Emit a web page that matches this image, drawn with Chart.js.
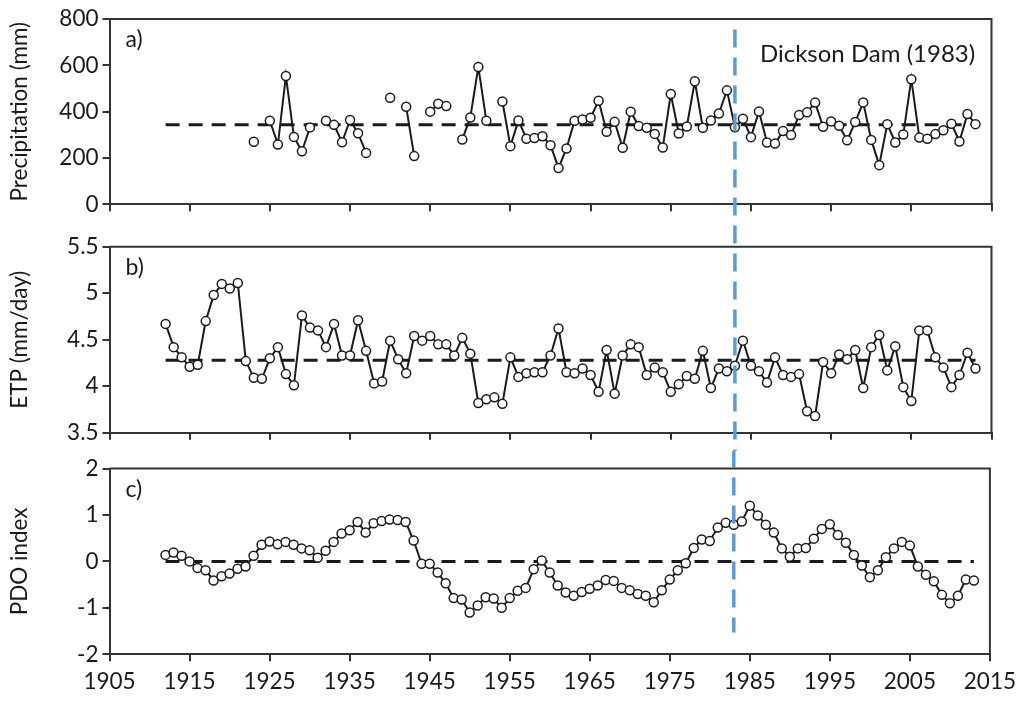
<!DOCTYPE html>
<html><head><meta charset="utf-8">
<script src="https://cdn.jsdelivr.net/npm/chart.js@4.4.0/dist/chart.umd.min.js"></script>
<style>
html,body{margin:0;padding:0;background:#fff;}
#wrap{position:relative;width:1023px;height:702px;overflow:hidden;background:#fff;}
canvas{position:absolute;left:0;}
</style></head><body>
<div id="wrap">
<canvas id="cA" width="1023" height="226" style="top:0px"></canvas>
<canvas id="cB" width="1023" height="225" style="top:226px"></canvas>
<canvas id="cC" width="1023" height="251" style="top:451px"></canvas>
</div>
<script>
// ---------------- data ----------------
const firstYear = 1912;           // first year of the record
const lastYear = 2013;            // last year of the record
const damYear = 1983;
const damLabel = 'Dickson Dam (1983)';

// Precipitation (mm), 1912-2013 (null = missing year)
const precipitation = [
  null,null,null,null,null,null,null,null,null,null,null,
  270,null,361,258,554,291,229,332,null,361,
  343,268,364,307,222,null,null,460,null,421,
  208,null,400,434,424,null,280,375,593,361,
  null,444,251,362,283,286,294,255,157,241,
  361,366,374,447,313,356,244,400,338,330,
  304,245,476,306,336,531,330,362,392,492,
  333,369,290,401,267,262,316,299,385,397,
  439,335,358,339,276,355,440,278,169,346,
  267,301,540,288,283,303,320,348,271,390,
  346
];
// ETP (mm/day), 1912-2013
const etp = [
  4.67,4.42,4.31,4.21,4.23,4.70,4.98,5.10,5.05,5.11,
  4.27,4.09,4.08,4.30,4.42,4.13,4.01,4.76,4.63,4.60,
  4.42,4.67,4.33,4.33,4.71,4.38,4.03,4.05,4.49,4.29,
  4.14,4.54,4.49,4.54,4.45,4.45,4.33,4.52,4.35,3.82,
  3.86,3.88,3.81,4.31,4.10,4.14,4.15,4.15,4.33,4.62,
  4.15,4.14,4.19,4.12,3.94,4.39,3.92,4.33,4.45,4.42,
  4.12,4.20,4.15,3.94,4.02,4.11,4.08,4.38,3.98,4.19,
  4.16,4.22,4.49,4.22,4.16,4.04,4.31,4.12,4.10,4.13,
  3.73,3.68,4.26,4.14,4.34,4.29,4.39,3.98,4.42,4.55,
  4.17,4.43,3.99,3.84,4.60,4.60,4.31,4.20,3.99,4.12,
  4.36,4.19
];
// PDO index, 1912-2013
const pdo = [
  0.14,0.19,0.12,0.00,-0.14,-0.19,-0.41,-0.32,-0.26,-0.16,
  -0.11,0.12,0.36,0.43,0.37,0.42,0.36,0.28,0.24,0.08,
  0.23,0.42,0.60,0.67,0.85,0.62,0.82,0.87,0.90,0.89,
  0.85,0.45,-0.05,-0.05,-0.24,-0.47,-0.79,-0.82,-1.10,-0.95,
  -0.77,-0.80,-1.00,-0.79,-0.63,-0.57,-0.17,0.02,-0.24,-0.52,
  -0.67,-0.74,-0.66,-0.59,-0.52,-0.40,-0.42,-0.57,-0.62,-0.70,
  -0.74,-0.88,-0.62,-0.39,-0.19,-0.04,0.29,0.47,0.44,0.73,
  0.83,0.79,0.86,1.20,0.99,0.79,0.62,0.28,0.10,0.28,
  0.29,0.49,0.70,0.80,0.57,0.40,0.14,-0.09,-0.34,-0.19,
  0.09,0.28,0.42,0.34,-0.11,-0.29,-0.43,-0.72,-0.90,-0.74,
  -0.39,-0.41
];
// long-term means (dashed reference lines)
const precipMean = 343;
const etpMean = 4.28;
const pdoMean = 0;

// tick labels
const xTicks = [1905,1915,1925,1935,1945,1955,1965,1975,1985,1995,2005,2015];
const precipTicks = [0,200,400,600,800];
const etpTicks = [3.5,4,4.5,5,5.5];
const pdoTicks = [-2,-1,0,1,2];

// dam line extent (value at top in panel a, value at bottom in panel c)
const damTopValue = 755;
const damBottomValue = -1.53;

// ---------------- styling ----------------
const FONT = 'Lato';
const TXT = '#1a1a1a';
const AXIS = '#333333';
const DAM_COLOR = '#5b9bd5';
const DAM_DASH = [18, 10];
let damStartGlobal = 30;

const years = [];
for (let y = firstYear; y <= lastYear; y++) years.push(y);
const pts = arr => years.map((yr, i) => ({x: yr, y: arr[i]}));
const meanPts = m => [{x: firstYear, y: m}, {x: lastYear, y: m}];

const framePlugin = {
  id: 'frame',
  afterDraw(chart) {
    const a = chart.chartArea, ctx = chart.ctx;
    ctx.save();
    ctx.strokeStyle = AXIS; ctx.lineWidth = 2;
    ctx.beginPath();
    ctx.moveTo(a.left, a.top); ctx.lineTo(a.right, a.top); ctx.lineTo(a.right, a.bottom);
    ctx.stroke();
    ctx.restore();
  }
};

const overlayPlugin = {
  id: 'overlay',
  afterDatasetsDraw(chart, args, opts) {
    const ctx = chart.ctx, a = chart.chartArea;
    const x = chart.scales.x.getPixelForValue(damYear);
    let y0 = 0, y1 = chart.height;
    if (opts.topValue !== undefined) { y0 = chart.scales.y.getPixelForValue(opts.topValue); damStartGlobal = y0 + opts.offsetTop; }
    if (opts.bottomValue !== undefined) { y1 = chart.scales.y.getPixelForValue(opts.bottomValue); }
    ctx.save();
    ctx.strokeStyle = DAM_COLOR; ctx.lineWidth = 3.5;
    ctx.setLineDash(DAM_DASH);
    ctx.lineDashOffset = (opts.offsetTop + y0) - damStartGlobal;
    ctx.beginPath(); ctx.moveTo(x, y0); ctx.lineTo(x, y1); ctx.stroke();
    ctx.restore();
    // panel letter
    ctx.save();
    ctx.fillStyle = TXT;
    ctx.font = '23px ' + FONT;
    ctx.textBaseline = 'middle'; ctx.textAlign = 'left';
    ctx.fillText(opts.letter, a.left + 16, a.top + 21);
    if (opts.showLabel) {
      ctx.font = '24px ' + FONT;
      ctx.fillText(damLabel, x + 25, a.top + 35);
    }
    ctx.restore();
  }
};

function makeChart(id, series, mean, yTicks, yMin, yMax, yTitle, cfg) {
  return new Chart(document.getElementById(id), {
    type: 'line',
    data: {
      datasets: [
        {
          data: pts(series), order: 0,
          borderColor: '#1a1a1a', borderWidth: 2,
          pointRadius: 4.5, pointBackgroundColor: '#fff', pointBorderColor: '#1a1a1a', pointBorderWidth: 1.5,
          spanGaps: false, tension: 0
        },
        {
          data: meanPts(mean), order: 1,
          borderColor: '#1a1a1a', borderWidth: 3, borderDash: [14, 9],
          pointRadius: 0
        }
      ]
    },
    options: {
      responsive: false, animation: false, devicePixelRatio: 1,
      layout: {padding: {top: cfg.padTop, left: 0, right: 31.5, bottom: 0}},
      plugins: {legend: {display: false}, tooltip: {enabled: false},
        overlay: cfg.overlay},
      scales: {
        x: {
          type: 'linear', min: 1905, max: 2015,
          afterBuildTicks: s => { s.ticks = xTicks.map(v => ({value: v})); },
          afterFit: s => { s.height = cfg.xHeight; },
          grid: {drawOnChartArea: false, drawTicks: true, tickLength: 7, color: AXIS, lineWidth: 2},
          border: {display: true, color: AXIS, width: 2},
          ticks: {display: cfg.xLabels, color: TXT, font: {family: FONT, size: 22.5}, padding: 7,
            maxRotation: 0, autoSkip: false, callback: v => String(v)}
        },
        y: {
          min: yMin, max: yMax,
          afterBuildTicks: s => { s.ticks = yTicks.map(v => ({value: v})); },
          afterFit: s => { s.width = 109.5; },
          grid: {drawOnChartArea: false, drawTicks: true, tickLength: 7, color: AXIS, lineWidth: 2},
          border: {display: true, color: AXIS, width: 2},
          ticks: {color: TXT, font: {family: FONT, size: 22.5}, padding: 4, callback: v => String(v)},
          title: {display: true, text: yTitle, color: TXT, font: {family: FONT, size: 22.5}, padding: {top: 6, bottom: 0}}
        }
      }
    },
    plugins: [framePlugin, overlayPlugin]
  });
}

makeChart('cA', precipitation, precipMean, precipTicks, 0, 800, 'Precipitation (mm)',
  {padTop: 19, xHeight: 21.7, xLabels: false,
   overlay: {letter: 'a)', showLabel: true, topValue: damTopValue, offsetTop: 0}});
makeChart('cB', etp, etpMean, etpTicks, 3.5, 5.5, 'ETP (mm/day)',
  {padTop: 20.7, xHeight: 18.3, xLabels: false,
   overlay: {letter: 'b)', showLabel: false, offsetTop: 226}});
makeChart('cC', pdo, pdoMean, pdoTicks, -2, 2, 'PDO index',
  {padTop: 17.3, xHeight: 47.7, xLabels: true,
   overlay: {letter: 'c)', showLabel: false, bottomValue: damBottomValue, offsetTop: 451}});
</script>
</body></html>
